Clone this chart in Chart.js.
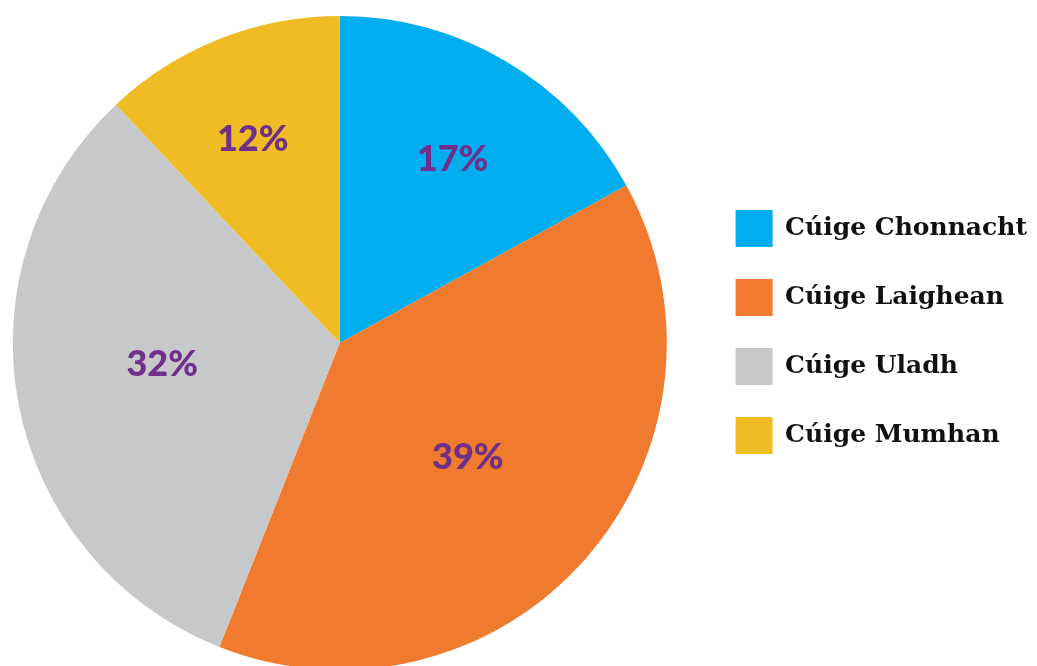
<!DOCTYPE html>
<html>
<head>
<meta charset="utf-8">
<script src="https://cdn.jsdelivr.net/npm/chart.js@4/dist/chart.umd.min.js"></script>
<style>
  html, body { margin: 0; padding: 0; background: #ffffff; overflow: hidden; width: 1037px; height: 666px; }
  #wrap { position: absolute; left: -24px; top: 0; width: 1061px; height: 700px; }
</style>
</head>
<body>
<div id="wrap"><canvas id="c"></canvas></div>
<script>
const categories = ['Cúige Chonnacht', 'Cúige Laighean', 'Cúige Uladh', 'Cúige Mumhan'];
const values = [17, 39, 32, 12];
const valueLabels = ['17%', '39%', '32%', '12%'];
const colors = ['#00AEEF', '#F07A2E', '#C7C8CA', '#F0BC24'];
const labelRadius = [0.658, 0.526, 0.547, 0.676];
const labelAngleShift = [1, 0.5, 3.9, -1.6];

const pctLabels = {
  id: 'pctLabels',
  afterDatasetsDraw(chart) {
    const ctx = chart.ctx;
    const meta = chart.getDatasetMeta(0);
    ctx.save();
    ctx.fillStyle = '#702F8A';
    ctx.font = '900 36px Lato, "Open Sans", sans-serif';
    ctx.textAlign = 'center';
    ctx.textBaseline = 'middle';
    meta.data.forEach((arc, i) => {
      const p = arc.getProps(['x', 'y', 'startAngle', 'endAngle', 'outerRadius'], true);
      const mid = (p.startAngle + p.endAngle) / 2 + labelAngleShift[i] * Math.PI / 180;
      const r = p.outerRadius * labelRadius[i];
      ctx.fillText(valueLabels[i], p.x + Math.cos(mid) * r, p.y + Math.sin(mid) * r);
    });
    ctx.restore();
  }
};

new Chart(document.getElementById('c'), {
  type: 'pie',
  data: {
    labels: categories,
    datasets: [{
      data: values,
      backgroundColor: colors,
      borderWidth: 0
    }]
  },
  options: {
    responsive: true,
    maintainAspectRatio: false,
    animation: false,
    layout: { padding: { top: 16, bottom: 30, left: 0, right: 0 } },
    plugins: {
      tooltip: { enabled: false },
      legend: {
        position: 'right',
        align: 'center',
        title: { display: true, text: '', font: { size: 1 }, padding: { top: -23, bottom: 0 } },
        labels: {
          boxWidth: 37,
          boxHeight: 37,
          padding: 32,
          color: '#111111',
          font: { family: '"DejaVu Serif", serif', size: 25, weight: 'bold' }
        }
      }
    }
  },
  plugins: [pctLabels]
});
</script>
</body>
</html>
